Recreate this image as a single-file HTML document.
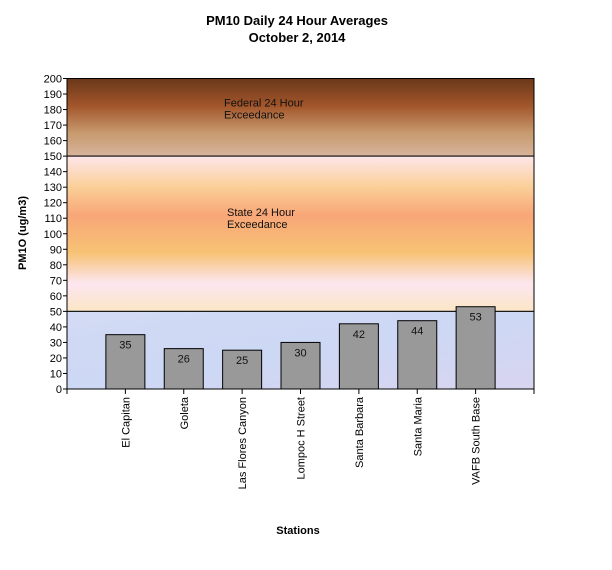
<!DOCTYPE html>
<html><head><meta charset="utf-8"><style>
body{margin:0;background:#fff;font-family:"Liberation Sans",Arial,sans-serif}
</style></head><body>
<svg width="612" height="565" viewBox="0 0 612 565" xmlns="http://www.w3.org/2000/svg">
<defs>
<linearGradient id="fed" x1="0" y1="0" x2="0" y2="1">
<stop offset="0" stop-color="#6a381a"/><stop offset="0.35" stop-color="#a2552a"/><stop offset="0.7" stop-color="#c79a6e"/><stop offset="1" stop-color="#d8b49c"/></linearGradient>
<linearGradient id="state" x1="0" y1="0" x2="0" y2="1">
<stop offset="0" stop-color="#fde6ea"/><stop offset="0.2" stop-color="#fbcf98"/><stop offset="0.38" stop-color="#f8a678"/><stop offset="0.62" stop-color="#f7c274"/><stop offset="0.82" stop-color="#fde6f0"/><stop offset="1" stop-color="#fbe6c6"/></linearGradient>
<linearGradient id="low" x1="0" y1="0" x2="1" y2="1">
<stop offset="0" stop-color="#d3daf4"/><stop offset="0.5" stop-color="#ccd8f4"/><stop offset="1" stop-color="#d8d4f0"/></linearGradient>
</defs>
<text x="297" y="25" text-anchor="middle" font-size="13" font-weight="bold">PM10 Daily 24 Hour Averages</text>
<text x="297" y="42" text-anchor="middle" font-size="13" font-weight="bold">October 2, 2014</text>
<g id="plot"></g>
<text transform="translate(26,233) rotate(-90)" text-anchor="middle" font-size="11" font-weight="bold">PM1O (ug/m3)</text>
<text x="298" y="534" text-anchor="middle" font-size="11" font-weight="bold">Stations</text>
</svg>
<script>
const categories=["El Capitan","Goleta","Las Flores Canyon","Lompoc H Street","Santa Barbara","Santa Maria","VAFB South Base"];
const values=[35,26,25,30,42,44,53];
const yTicks=[0,10,20,30,40,50,60,70,80,90,100,110,120,130,140,150,160,170,180,190,200];
const bands=[{from:150,to:200,fill:"url(#fed)",label:["Federal 24 Hour","Exceedance"],name:"federal-band"},{from:50,to:150,fill:"url(#state)",label:["State 24 Hour","Exceedance"],name:"state-band"},{from:0,to:50,fill:"url(#low)",label:null,name:"normal-band"}];
const NS="http://www.w3.org/2000/svg";
const L=67,R=534,T=78.5,B=389,yMax=200,nSlots=categories.length+1;
const y=v=>B-(v/yMax)*(B-T);
const slot=(R-L)/nSlots;
const xc=i=>L+(i+1)*slot;
const g=document.getElementById('plot');
function mk(t,a){const e=document.createElementNS(NS,t);for(const k in a)e.setAttribute(k,a[k]);return e;}
bands.forEach(b=>{
 const r=mk('rect',{x:L,y:y(b.to),width:R-L,height:y(b.from)-y(b.to),fill:b.fill,stroke:'#000','stroke-width':1});
 
 
 g.appendChild(r);
 if(b.label){const ty=b.from===150?y(180)-3:y(110)-2;
  b.label.forEach((s,j)=>{const t=mk('text',{x:224+(b.from===50?3:0),y:ty+j*12,'font-size':11,fill:'#111'});t.textContent=s;
  
  
  g.appendChild(t);});}
});
yTicks.forEach(v=>{
 const l=mk('line',{x1:L-4,x2:L,y1:y(v),y2:y(v),stroke:'#000'});g.appendChild(l);
 const t=mk('text',{x:L-5,y:y(v)+4,'text-anchor':'end','font-size':11});t.textContent=v;
 
 
 g.appendChild(t);
});
g.appendChild(mk('line',{x1:L,x2:R,y1:B,y2:B,stroke:'#000'}));
for(let i=0;i<=nSlots;i++)g.appendChild(mk('line',{x1:L+i*slot,x2:L+i*slot,y1:B,y2:B+5,stroke:'#000'}));
const bw=39;
categories.forEach((c,i)=>{
 const bar=mk('rect',{x:xc(i)-bw/2,y:y(values[i]),width:bw,height:B-y(values[i]),fill:'#999',stroke:'#000','stroke-width':1});
 
 
 g.appendChild(bar);
 const v=mk('text',{x:xc(i),y:y(values[i])+14,'text-anchor':'middle','font-size':11,fill:'#111'});v.textContent=values[i];
 
 
 g.appendChild(v);
 const t=mk('text',{transform:`translate(${xc(i)+4},397) rotate(-90)`,'text-anchor':'end','font-size':11});t.textContent=c;
 
 
 g.appendChild(t);
});
</script>
</body></html>
